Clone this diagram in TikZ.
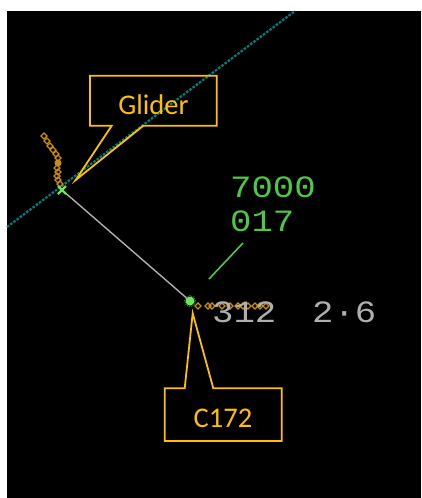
\documentclass[tikz,border=0pt]{standalone}
\usepackage{fontspec}
\usetikzlibrary{calc}
\setmainfont{Carlito}
\newfontfamily\radarfont[FakeStretch=1.15]{Liberation Mono}
\definecolor{callgold}{RGB}{255,192,0}
\definecolor{trailorange}{RGB}{205,140,10}
\definecolor{radargreen}{RGB}{80,200,70}
\definecolor{symgreen}{RGB}{110,230,90}
\definecolor{radargray}{RGB}{175,175,175}
\definecolor{routeteal}{RGB}{0,125,125}
\tikzset{
  callbox/.style={draw=callgold, line width=1.8pt, line join=miter},
  calltext/.style={text=callgold, font=\fontsize{28.5}{30}\selectfont, inner sep=0pt},
  datagreen/.style={text=radargreen, font=\radarfont\fontsize{31}{33}\selectfont, inner sep=0pt, anchor=base west},
  datagray/.style={text=radargray, font=\radarfont\fontsize{31}{33}\selectfont, inner sep=0pt, anchor=base west},
  trailmark/.style={draw=trailorange, line width=1.4pt},
}
\begin{document}
\begin{tikzpicture}[x=1pt,y=-1pt]
\useasboundingbox (0,0) rectangle (421,498);
\fill[white] (0,0) rectangle (421,498);
\fill[black] (7,11) rectangle (421,498);
% route line
\coordinate (rtA) at (7,227);
\coordinate (rtB) at (295,11);
\draw[routeteal, line width=2.2pt, dash pattern=on 2.6pt off 1.4pt] (rtA) -- (rtB);
% aircraft positions
\coordinate (gl) at (62,190);
\coordinate (cs) at (190,301);
% glider trail
\foreach \px/\py in {44/136,47/141,50/146,53/150,56/154,58/158,57/168,58/172,57/176,58/180,60/184}
  \draw[trailmark] (\px-3,\py) -- (\px,\py-3) -- (\px+3,\py) -- (\px,\py+3) -- cycle;
\fill[trailorange] (58,163) circle (3.5pt);
% C172 trail
\foreach \px in {198,208,212,222,230,238,243,248,255,260,266}
  \draw[trailmark] (\px-3,306) -- (\px,303) -- (\px+3,306) -- (\px,309) -- cycle;
% track line
\draw[radargray, line width=1.4pt] (gl) -- (cs);
% glider symbol
\draw[symgreen, line width=2.2pt] ($(gl)+(-4,-4)$) -- ($(gl)+(4,4)$) ($(gl)+(-4,4)$) -- ($(gl)+(4,-4)$);
% C172 symbol
\fill[symgreen] (cs) circle (4.5pt);
\draw[radargreen!70!black, line width=1pt, densely dotted] (cs) circle (5.5pt);
% data block
\node[datagreen] (alt) at (230,197) {7000};
\node[datagreen] (spd) at (230,231) {017};
\coordinate (ldA) at (209,279);
\coordinate (ldB) at (243,243);
\draw[radargreen, line width=1.6pt] (ldA) -- (ldB);
\node[datagray] (lvl) at (212,322) {312};
\node[datagray] (rate) at (312,322) {2·6};
% Glider callout
\node[calltext] (gtext) at (153.5,105) {Glider};
\coordinate (gtip) at (75.7,180);
\draw[callbox] (90,75.7) -- (216.7,75.7) -- (216.7,125.7) -- (143.3,125.7) -- (gtip) -- (111.7,125.7) -- (90,125.7) -- cycle;
% C172 callout
\node[calltext] (ctext) at (223,418) {C172};
\coordinate (ctip) at (192.7,313.3);
\draw[callbox] (164.7,388.3) -- (184.7,388.3) -- (ctip) -- (213.3,388.3) -- (281.7,388.3) -- (281.7,441) -- (164.7,441) -- cycle;
\end{tikzpicture}
\end{document}
